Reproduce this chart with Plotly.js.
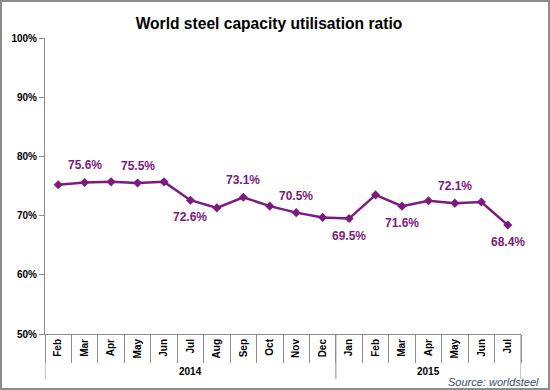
<!DOCTYPE html>
<html>
<head>
<meta charset="utf-8">
<script src="https://cdn.plot.ly/plotly-3.0.1.min.js"></script>
<style>
  html, body { margin: 0; padding: 0; background: #fff; }
  #wrap { position: relative; width: 550px; height: 390px; }
  #chart { width: 550px; height: 390px; }
  #frame { position: absolute; left: 0; top: 0; width: 550px; height: 390px; box-sizing: border-box; border: 2px solid #8c8c8c; pointer-events: none; }
</style>
</head>
<body>
<div id="wrap">
  <div id="chart"></div>
  <div id="frame"></div>
</div>
<script>
const years  = ['2014','2014','2014','2014','2014','2014','2014','2014','2014','2014','2014',
                '2015','2015','2015','2015','2015','2015','2015'];
const months = ['Feb','Mar','Apr','May','Jun','Jul','Aug','Sep','Oct','Nov','Dec',
                'Jan','Feb','Mar','Apr','May','Jun','Jul'];
const utilisation = [75.2, 75.6, 75.7, 75.5, 75.7, 72.6, 71.3, 73.1, 71.6, 70.5, 69.7,
                     69.5, 73.5, 71.6, 72.5, 72.1, 72.3, 68.4];
// which points carry a value label, and on which side
const labelSide = ['', 'above', '', 'above', '', 'below', '', 'above', '', 'above', '',
                   'below', '', 'below', '', 'above', '', 'below'];

const purple = '#7d1a7d';
const grey = '#8c8c8c';
const fontFam = 'Liberation Sans, Arial, sans-serif';

const cats = months.map((m, i) => m + ' ' + years[i]);

const trace = {
  type: 'scatter',
  mode: 'lines+markers',
  x: cats,
  y: utilisation,
  line: { color: purple, width: 2.5 },
  marker: { symbol: 'diamond', size: 7, color: purple },
  hoverinfo: 'skip'
};

const annotations = [];
utilisation.forEach((v, i) => {
  if (!labelSide[i]) return;
  annotations.push({
    x: i, y: v, xref: 'x', yref: 'y',
    text: v.toFixed(1) + '%',
    showarrow: false,
    yshift: labelSide[i] === 'above' ? 17 : -17,
    font: { family: fontFam, size: 12, color: purple, weight: 'bold' }
  });
});

// year groups: labels and dividers
const shapes = [];
const groups = [];
years.forEach((y, i) => {
  if (!groups.length || groups[groups.length - 1].year !== y) groups.push({ year: y, start: i, end: i });
  else groups[groups.length - 1].end = i;
});
groups.forEach((g, k) => {
  annotations.push({
    x: (g.start + g.end) / 2, xref: 'x', y: -0.128, yref: 'paper',
    text: '<b>' + g.year + '</b>', showarrow: false, yanchor: 'middle',
    font: { family: fontFam, size: 10, color: '#000' }
  });
  const edges = k === 0 ? [g.start - 0.5, g.end + 0.5] : [g.end + 0.5];
  edges.forEach(xe => shapes.push({
    type: 'line', xref: 'x', yref: 'paper', x0: xe, x1: xe, y0: 0, y1: -0.152,
    line: { color: grey, width: 1 }
  }));
});

annotations.push({
  xref: 'paper', yref: 'paper', x: 1.042, y: -0.162, xanchor: 'right', yanchor: 'middle',
  text: '<i>Source: worldsteel</i>', showarrow: false,
  font: { family: fontFam, size: 11, color: '#3b4a6b' }
});

const layout = {
  width: 550, height: 390,
  margin: { l: 45, r: 29, t: 38, b: 56 },
  paper_bgcolor: '#ffffff', plot_bgcolor: '#ffffff',
  showlegend: false,
  font: { family: fontFam, size: 10, color: '#000' },
  title: {
    text: '<b>World steel capacity utilisation ratio</b>',
    x: 0.489, xanchor: 'center', y: 0.94, yanchor: 'middle',
    font: { family: fontFam, size: 15.6, color: '#000' }
  },
  xaxis: {
    type: 'category',
    range: [-0.5, cats.length - 0.5],
    tickvals: cats, ticktext: months.map(m => '<b>' + m + '</b>'),
    showline: true, linecolor: grey, linewidth: 1,
    ticks: 'outside', tickson: 'boundaries', ticklen: 28, tickcolor: grey,
    tickangle: -90,
    tickfont: { size: 10, family: fontFam },
    showgrid: false, zeroline: false, fixedrange: true
  },
  yaxis: {
    range: [50, 100], dtick: 10, ticksuffix: '%',
    showline: true, linecolor: grey, linewidth: 1,
    ticks: 'outside', ticklen: 5, tickcolor: grey,
    tickfont: { size: 10, weight: 'bold', family: fontFam },
    showgrid: false, zeroline: false, fixedrange: true
  },
  shapes: shapes,
  annotations: annotations
};

Plotly.newPlot('chart', [trace], layout, { displayModeBar: false, staticPlot: true });
</script>
</body>
</html>
